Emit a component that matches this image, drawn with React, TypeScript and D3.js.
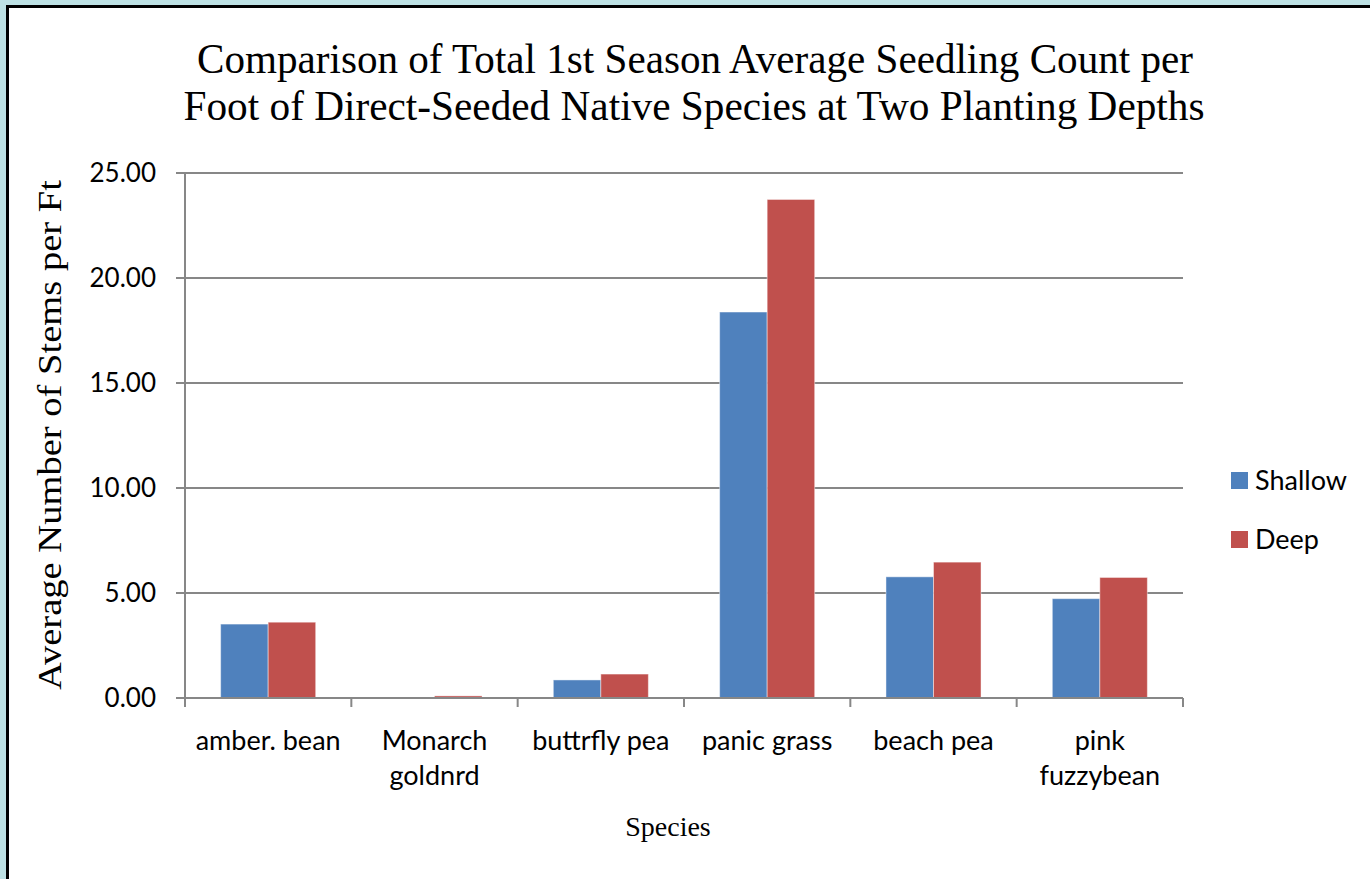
import * as React from "react";
import * as d3 from "d3";

const categories = ["amber. bean", "Monarch goldnrd", "buttrfly pea", "panic grass", "beach pea", "pink fuzzybean"];
const categoryLines = [["amber. bean"], ["Monarch", "goldnrd"], ["buttrfly pea"], ["panic grass"], ["beach pea"], ["pink", "fuzzybean"]];
const seriesNames = ["Shallow", "Deep"];
const shallow = [3.52, 0, 0.86, 18.38, 5.77, 4.73];
const deep = [3.61, 0.1, 1.14, 23.74, 6.47, 5.74];
const yTicks = [0, 5, 10, 15, 20, 25];
const titleLines = [
  "Comparison of Total 1st Season Average Seedling Count per",
  "Foot of Direct-Seeded Native Species at Two Planting Depths",
];

const W = 1370;
const H = 879;
const COLORS = ["#4F81BD", "#C0504D"];
const SERIF = "'Liberation Serif', 'DejaVu Serif', serif";
const SANS = "Lato, 'Open Sans', 'Noto Sans', sans-serif";
const GRID = "#878787";

export default function App() {
  const plot = { left: 185, right: 1183, top: 173, bottom: 698 };

  const y = d3.scaleLinear().domain([0, 25]).range([plot.bottom, plot.top]);
  const x0 = d3.scaleBand<string>().domain(categories).range([plot.left, plot.right]).padding(0);
  const x1 = d3
    .scaleBand<string>()
    .domain(seriesNames)
    .range([0, x0.bandwidth()])
    .paddingInner(0)
    .paddingOuter(0.75);

  const values = [shallow, deep];

  return (
    <svg
      width={W}
      height={H}
      style={{ position: "absolute", left: 0, top: 0, display: "block" }}
    >
      {/* frame */}
      <rect x={0} y={0} width={W} height={H} fill="#BDE1E4" />
      <rect x={7.5} y={6.5} width={W + 20} height={H + 20} fill="#fff" stroke="#000" strokeWidth={3} />

      {/* title */}
      {titleLines.map((t, i) => (
        <text
          key={t}
          x={i === 0 ? 695 : 694}
          y={73 + i * 47}
          textAnchor="middle"
          fontFamily={SERIF}
          fontSize={43}
          fill="#000"
          textLength={i === 0 ? 996 : 1021}
          lengthAdjust="spacingAndGlyphs"
        >
          {t}
        </text>
      ))}

      {/* gridlines */}
      {yTicks.map((t) => (
        <g key={t}>
          <line x1={plot.left - 9} x2={plot.right} y1={y(t)} y2={y(t)} stroke={GRID} strokeWidth={2} />
          <text
            x={156}
            y={y(t)}
            dy="0.35em"
            textAnchor="end"
            fontFamily={SANS}
            fontSize={26}
            fill="#000"
          >
            {t.toFixed(2)}
          </text>
        </g>
      ))}

      {/* bars */}
      {categories.map((c, i) =>
        seriesNames.map((s, j) => {
          const v = values[j][i];
          const bx = (x0(c) ?? 0) + (x1(s) ?? 0);
          const by = y(v);
          return (
            <rect
              key={`${c}-${s}`}
              x={bx}
              y={by}
              width={x1.bandwidth()}
              height={plot.bottom - by}
              fill={COLORS[j]}
              stroke="rgba(255,255,255,0.45)"
              strokeWidth={1}
            />
          );
        }),
      )}

      {/* axes */}
      <line x1={plot.left} x2={plot.left} y1={plot.top} y2={plot.bottom} stroke={GRID} strokeWidth={2} />
      <line x1={plot.left} x2={plot.right} y1={plot.bottom} y2={plot.bottom} stroke={GRID} strokeWidth={2} />
      {[...categories.map((c) => x0(c) ?? 0), plot.right].map((tx, i) => (
        <line key={i} x1={tx} x2={tx} y1={plot.bottom} y2={plot.bottom + 9} stroke={GRID} strokeWidth={2} />
      ))}

      {/* category labels */}
      {categories.map((c, i) => (
        <text
          key={c}
          x={(x0(c) ?? 0) + x0.bandwidth() / 2}
          y={750}
          textAnchor="middle"
          fontFamily={SANS}
          fontSize={27}
          fill="#000"
        >
          {categoryLines[i].map((ln, k) => (
            <tspan key={ln} x={(x0(c) ?? 0) + x0.bandwidth() / 2} dy={k === 0 ? 0 : 35}>
              {ln}
            </tspan>
          ))}
        </text>
      ))}

      {/* axis titles */}
      <text x={668} y={836} textAnchor="middle" fontFamily={SERIF} fontSize={28} fill="#000">
        Species
      </text>
      <text
        transform="translate(61,435) rotate(-90)"
        textAnchor="middle"
        fontFamily={SERIF}
        fontSize={33}
        fill="#000"
        textLength={510}
        lengthAdjust="spacingAndGlyphs"
      >
        Average Number of Stems per Ft
      </text>

      {/* legend */}
      {seriesNames.map((s, j) => (
        <g key={s} transform={`translate(1231,${472 + j * 59})`}>
          <rect width={17} height={17} fill={COLORS[j]} />
          <text x={24} y={9} dy="0.35em" fontFamily={SANS} fontSize={27} fill="#000">
            {s}
          </text>
        </g>
      ))}
    </svg>
  );
}
